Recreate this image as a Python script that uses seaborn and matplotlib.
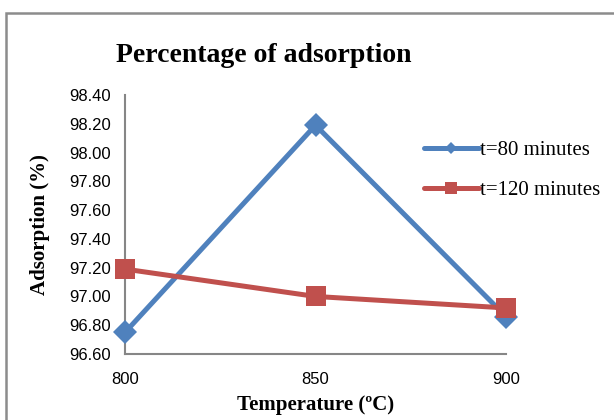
import matplotlib
matplotlib.use("Agg")
import matplotlib.pyplot as plt
from matplotlib.patches import Rectangle
from matplotlib.lines import Line2D
import seaborn as sns
import pandas as pd

temperature = [800, 850, 900]
adsorption_80 = [96.75, 98.19, 96.86]
adsorption_120 = [97.19, 97.00, 96.92]
series_names = ["t=80 minutes", "t=120 minutes"]
y_ticks = [96.60, 96.80, 97.00, 97.20, 97.40, 97.60, 97.80, 98.00, 98.20, 98.40]
x_ticks = [800, 850, 900]

blue = "#4F81BD"
red = "#C0504D"
axis_gray = "#868686"

sns.set_style("white")
plt.rcParams["font.family"] = ["Liberation Sans", "DejaVu Sans"]
plt.rcParams["text.color"] = "black"
plt.rcParams["axes.labelcolor"] = "black"

df80 = pd.DataFrame({"Temperature": temperature, "Adsorption": adsorption_80})
df120 = pd.DataFrame({"Temperature": temperature, "Adsorption": adsorption_120})

fig = plt.figure(figsize=(6.14, 4.20), dpi=100)
ax = fig.add_axes([125 / 614, 66 / 420, 381 / 614, 259 / 420])

sns.lineplot(data=df80, x="Temperature", y="Adsorption", ax=ax, color=blue,
             linewidth=3.6, marker="D", markersize=12, markeredgewidth=0,
             zorder=3, clip_on=False)
sns.lineplot(data=df120, x="Temperature", y="Adsorption", ax=ax, color=red,
             linewidth=3.6, marker="s", markersize=14.5, markeredgewidth=0,
             zorder=4, clip_on=False)

ax.set_xlim(800, 900)
ax.set_ylim(96.60, 98.40)
ax.set_xticks(x_ticks)
ax.set_xticklabels([str(v) for v in x_ticks])
ax.set_yticks(y_ticks)
ax.set_yticklabels([f"{v:.2f}" for v in y_ticks])
ax.tick_params(axis="both", direction="out", length=5, width=1.2,
               color=axis_gray, labelsize=12, labelcolor="black")
ax.tick_params(axis="y", pad=5)
ax.tick_params(axis="x", pad=8)

for side in ["top", "right"]:
    ax.spines[side].set_visible(False)
for side in ["left", "bottom"]:
    ax.spines[side].set_color(axis_gray)
    ax.spines[side].set_linewidth(1.5)
    ax.spines[side].set_zorder(1)

serif = ["Liberation Serif", "DejaVu Serif"]
ax.set_xlabel("Temperature (ºC)", fontsize=15, fontweight="bold",
              family=serif, labelpad=6, color="black")
ax.set_ylabel("Adsorption (%)", fontsize=15, fontweight="bold",
              family=serif, labelpad=14, color="black")

fig.text(264 / 614, 1 - 55 / 420, "Percentage of adsorption", ha="center",
         va="center", fontsize=20, fontweight="bold", family=serif,
         color="black")

handles = [
    Line2D([], [], color=blue, linewidth=3.6, marker="D", markersize=6,
           markeredgewidth=0),
    Line2D([], [], color=red, linewidth=3.6, marker="s", markersize=8,
           markeredgewidth=0),
]
fig.legend(handles, series_names, loc="upper left",
           bbox_to_anchor=(416 / 614, 1 - 132 / 420),
           frameon=False, prop={"family": serif, "size": 15},
           handlelength=2.6, handletextpad=0.05, labelspacing=1.0,
           borderaxespad=0, labelcolor="black")

# outer chart frame
fig.patches.append(Rectangle((6 / 614, -0.1), 1.2, 1 - 13 / 420 + 0.1,
                             transform=fig.transFigure, fill=False,
                             edgecolor="#8C8C8C", linewidth=1.8))

fig.savefig("out.png", dpi=100)
